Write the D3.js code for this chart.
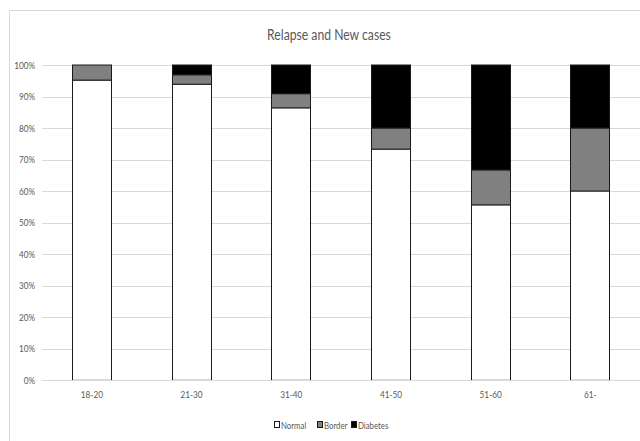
<!DOCTYPE html>
<html>
<head>
<meta charset="utf-8">
<script src="https://cdn.jsdelivr.net/npm/d3@7"></script>
<style>
  html, body { margin: 0; padding: 0; background: #fff; }
  svg { display: block; }
  text { font-family: Lato, "Open Sans", sans-serif; fill: #595959; }
</style>
</head>
<body>
<svg id="chart" width="640" height="441"></svg>
<script>
// Age groups and share of each glucose category (percent of group)
const categories = ["18-20", "21-30", "31-40", "41-50", "51-60", "61-"];
const normal   = [95.2, 93.9, 86.4, 73.3, 55.6, 60.0];
const border   = [4.8, 3.0, 4.5, 6.7, 11.1, 20.0];
const diabetes = [0.0, 3.1, 9.1, 20.0, 33.3, 20.0];
const seriesNames = ["Normal", "Border", "Diabetes"];
const yTicks = [0, 10, 20, 30, 40, 50, 60, 70, 80, 90, 100];
const title = "Relapse and New cases";

const colors = { Normal: "#ffffff", Border: "#808080", Diabetes: "#000000" };
const labelFont = "Lato, 'Open Sans', sans-serif";

const svg = d3.select("#chart");
const W = 640, H = 441;

// narrow a text element horizontally, keeping its anchor
function condense(sel, k) {
  sel.each(function () {
    const len = this.getComputedTextLength();
    d3.select(this).attr("textLength", len * k).attr("lengthAdjust", "spacingAndGlyphs");
  });
}

// chart frame
svg.append("rect")
  .attr("x", 9.5).attr("y", 10.5)
  .attr("width", W + 20).attr("height", H - 10)
  .attr("fill", "#fff").attr("stroke", "#d9d9d9").attr("stroke-width", 1);

const plot = { left: 42, right: 640, top: 65, bottom: 380 };

const x = d3.scaleBand()
  .domain(categories)
  .range([plot.left, plot.left + 6 * 99.7])
  .paddingInner(0.6)
  .paddingOuter(0.3);

const y = d3.scaleLinear().domain([0, 100]).range([plot.bottom, plot.top]);

// horizontal gridlines
svg.append("g")
  .selectAll("line")
  .data(yTicks)
  .join("line")
  .attr("x1", plot.left).attr("x2", plot.right)
  .attr("y1", d => Math.round(y(d)) + 0.5).attr("y2", d => Math.round(y(d)) + 0.5)
  .attr("stroke", "#d9d9d9").attr("stroke-width", 1);

// y-axis labels
const yAxis = d3.axisLeft(y).tickValues(yTicks).tickFormat(d => d + "%").tickSize(0).tickPadding(0);
const gy = svg.append("g").attr("transform", `translate(${plot.left - 7},0)`).call(yAxis);
gy.select(".domain").remove();
gy.selectAll("text").attr("font-size", 10).style("fill", "#595959").style("font-family", labelFont)
  .call(condense, 0.82);

// stacked data
const rows = categories.map((c, i) => ({ cat: c, Normal: normal[i], Border: border[i], Diabetes: diabetes[i] }));
const stacked = d3.stack().keys(seriesNames)(rows);

const barW = x.bandwidth();
svg.append("g")
  .selectAll("g")
  .data(stacked)
  .join("g")
  .attr("fill", d => colors[d.key])
  .selectAll("rect")
  .data(d => d.filter(p => p[1] - p[0] > 0))
  .join("rect")
  .attr("x", d => Math.round(x(d.data.cat)) + 0.5)
  .attr("y", d => y(d[1]))
  .attr("width", Math.round(barW) - 1)
  .attr("height", d => y(d[0]) - y(d[1]))
  .attr("stroke", "#1a1a1a")
  .attr("stroke-width", 1);

// x-axis baseline, a little heavier under the bars
svg.append("line")
  .attr("x1", plot.left).attr("x2", plot.right)
  .attr("y1", plot.bottom + 0.5).attr("y2", plot.bottom + 0.5)
  .attr("stroke", "#d9d9d9").attr("stroke-width", 1);
svg.append("g")
  .selectAll("line")
  .data(categories)
  .join("line")
  .attr("x1", d => Math.round(x(d)) + 1).attr("x2", d => Math.round(x(d)) + Math.round(barW) - 1)
  .attr("y1", plot.bottom).attr("y2", plot.bottom)
  .attr("stroke", "#d9d9d9").attr("stroke-width", 2);

// category labels
const xAxis = d3.axisBottom(x).tickSize(0).tickPadding(0);
const gx = svg.append("g").attr("transform", `translate(0,${plot.bottom + 11})`).call(xAxis);
gx.select(".domain").remove();
gx.selectAll("text").attr("font-size", 10).style("fill", "#595959").style("font-family", labelFont)
  .call(condense, 0.82);

// title
svg.append("text")
  .attr("x", 329).attr("y", 40)
  .attr("text-anchor", "middle")
  .attr("font-size", 14.5)
  .text(title)
  .call(condense, 0.84);

// legend
const legendX = [274, 317, 351];
const lg = svg.append("g").attr("transform", "translate(0,425)");
seriesNames.forEach((name, i) => {
  lg.append("rect")
    .attr("x", legendX[i] + 0.5).attr("y", -3.5)
    .attr("width", 5).attr("height", 6)
    .attr("fill", colors[name]).attr("stroke", "#1a1a1a").attr("stroke-width", 1);
  lg.append("text")
    .attr("x", legendX[i] + 7).attr("y", 3.5)
    .attr("font-size", 10)
    .text(name)
    .call(condense, 0.78);
});
</script>
</body>
</html>
